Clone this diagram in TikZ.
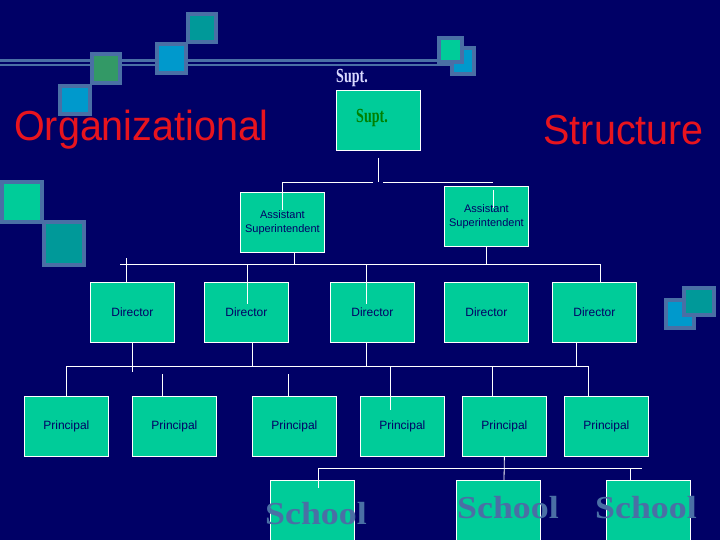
\documentclass[tikz,border=0pt]{standalone}
\usepackage{fontspec}
\setmainfont{Liberation Sans}
\newfontfamily\serf{Liberation Serif}
\definecolor{bg}{HTML}{000066}
\definecolor{box}{HTML}{00CC99}
\definecolor{ttl}{HTML}{E8141E}
\definecolor{frm}{HTML}{4A6FA5}
\definecolor{sqteal}{HTML}{009999}
\definecolor{sqblue}{HTML}{0099CC}
\definecolor{sqgreen}{HTML}{339966}
\definecolor{sqlg}{HTML}{00CC99}
\definecolor{schl}{HTML}{4A6FA5}
\begin{document}
\begin{tikzpicture}[x=1pt,y=-1pt,
  bx/.style={draw=white,line width=0.8pt,fill=box,anchor=north west,minimum width=84pt,minimum height=60pt,inner sep=0pt,font=\fontsize{12}{14}\selectfont,text=bg},
  ln/.style={draw=white,line width=0.8pt},
  sq/.style={draw=frm,line width=4pt},
  ttlst/.style={text=ttl,font=\fontsize{42}{46}\selectfont,xscale=0.94},
  sch/.style={font=\serf\bfseries\fontsize{32}{34}\selectfont,text=schl,xscale=1.12}]
\fill[bg] (0,0) rectangle (720,540);
\useasboundingbox (0,0) rectangle (720,540);
% decorations
\draw[frm,line width=2.5pt] (0,60.5) -- (455,60.5);
\draw[frm,line width=2.5pt] (0,65) -- (455,65);
\draw[sq,fill=sqteal] (188,14) rectangle (216,42);
\draw[sq,fill=sqblue] (157,44) rectangle (186,73);
\draw[sq,fill=sqgreen] (92,54) rectangle (120,83);
\draw[sq,fill=sqblue] (60,86) rectangle (90,114);
\draw[sq,fill=sqblue] (452,48) rectangle (474,74);
\draw[sq,fill=sqlg] (439,38) rectangle (462,62);
\draw[sq,fill=sqlg] (2,182) rectangle (42,222);
\draw[sq,fill=sqteal] (44,222) rectangle (84,265);
\draw[sq,fill=sqblue] (666,300) rectangle (694,328);
\draw[sq,fill=sqteal] (684,288) rectangle (714,315);
% titles
\node[ttlst,anchor=west,inner sep=0pt] (t1) at (14,130) {Organizational};
\node[ttlst,anchor=east,inner sep=0pt] (t2) at (704,130) {Structure};
\node[text=white!85!blue,font=\serf\bfseries\fontsize{20}{22}\selectfont,xscale=0.7] (sl) at (352,78) {Supt.};
% boxes
\node[bx] (s) at (336,90) {};
\node[text=green!50!black,font=\serf\bfseries\fontsize{20}{22}\selectfont,xscale=0.7] (st) at (372,118) {Supt.};
\node[bx,font=\fontsize{11}{14}\selectfont] (a1) at (240,192) {\begin{tabular}{@{}c@{}}Assistant\\Superintendent\end{tabular}};
\node[bx,font=\fontsize{11}{14}\selectfont] (a2) at (444,186) {\begin{tabular}{@{}c@{}}Assistant\\Superintendent\end{tabular}};
\foreach \x/\n in {90/d1,204/d2,330/d3,444/d4,552/d5}
  \node[bx] (\n) at (\x,282) {Director};
\foreach \x/\n in {24/p1,132/p2,252/p3,360/p4,462/p5,564/p6}
  \node[bx] (\n) at (\x,396) {Principal};
\foreach \x/\n in {270/c1,456/c2,606/c3}
  \node[bx,minimum height=64pt] (\n) at (\x,480) {};
\node[sch] (k1) at (316,514) {School};
\node[sch] (k2) at (508,508) {School};
\node[sch] (k3) at (646,508) {School};
% connectors
\coordinate (h1) at (378,158);
\draw[ln] (h1) -- (378,182);
\draw[ln] (282,210) -- (282,182) -- (373,182);
\draw[ln] (383,182) -- (493,182);
\draw[ln] (493,190) -- (493,208);
\draw[ln] (294,252) -- (294,264);
\draw[ln] (a2.south) -- ++(0,18);
\draw[ln] (120,264) -- (600,264);
\draw[ln] (126,258) -- (126,282);
\draw[ln] (247,264) -- (247,304);
\draw[ln] (366,264) -- (366,304);
\draw[ln] (600,264) -- (d5.north -| 600,282);
\draw[ln] (132,342) -- (132,372);
\draw[ln] (252,342) -- (252,366);
\draw[ln] (366,342) -- (366,366);
\draw[ln] (576,342) -- (576,366);
\draw[ln] (66,366) -- (588,366);
\draw[ln] (66,366) -- (66,396);
\draw[ln] (162,374) -- (162,396);
\draw[ln] (288,374) -- (288,396);
\draw[ln] (390,366) -- (390,410);
\draw[ln] (492,366) -- (492,396);
\draw[ln] (588,366) -- (588,396);
\draw[ln] (p5.south) -- (504,480);
\draw[ln] (318,468) -- (642,468);
\draw[ln] (318,468) -- (318,488);
\draw[ln] (630,468) -- (630,480);
\end{tikzpicture}
\end{document}
